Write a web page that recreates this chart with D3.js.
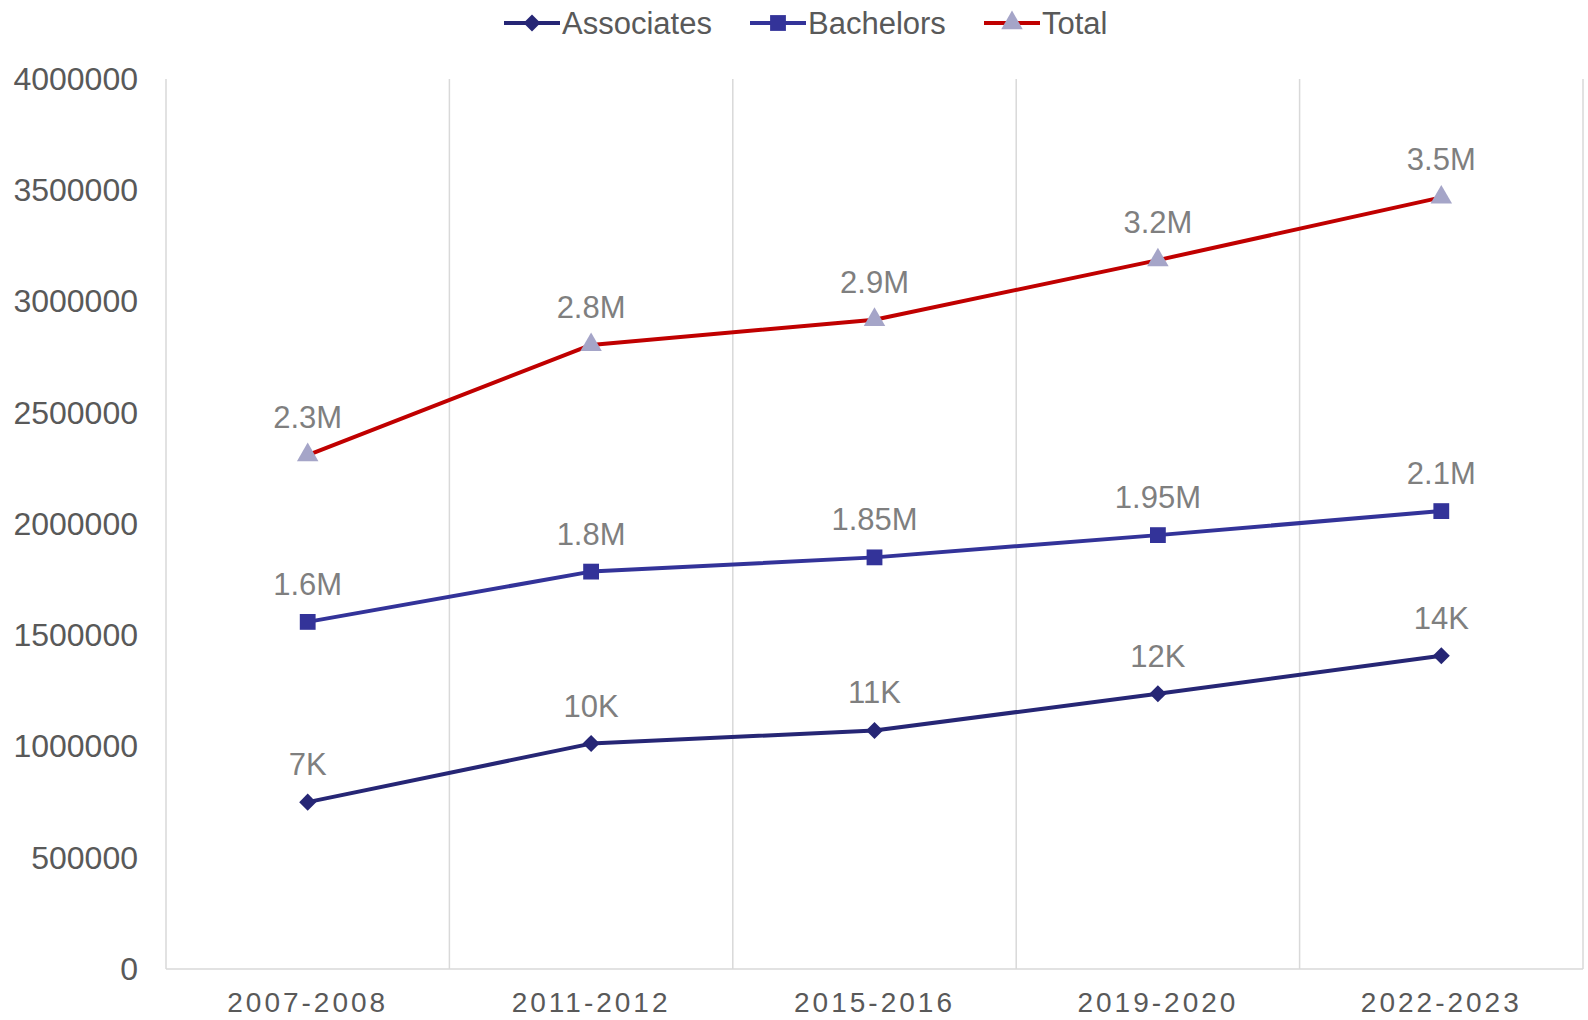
<!DOCTYPE html>
<html>
<head>
<meta charset="utf-8">
<script src="https://cdn.jsdelivr.net/npm/d3@7"></script>
<style>
  body { margin: 0; background: #fff; }
  svg { display: block; font-family: "Liberation Sans", Arial, sans-serif; }
</style>
</head>
<body>
<div id="chart"></div>
<script>
// data
var years = ["2007-2008", "2011-2012", "2015-2016", "2019-2020", "2022-2023"];
var associates = [750000, 1013000, 1072000, 1237000, 1408000];
var associatesLabels = ["7K", "10K", "11K", "12K", "14K"];
var bachelors = [1560000, 1786000, 1850000, 1950000, 2058000];
var bachelorsLabels = ["1.6M", "1.8M", "1.85M", "1.95M", "2.1M"];
var total = [2310000, 2805000, 2918000, 3186000, 3468000];
var totalLabels = ["2.3M", "2.8M", "2.9M", "3.2M", "3.5M"];
var yTicks = [0, 500000, 1000000, 1500000, 2000000, 2500000, 3000000, 3500000, 4000000];

var width = 1588, height = 1020;
var margin = { top: 79, right: 5, bottom: 51, left: 166 };

var series = [
  { name: "Associates", values: associates, labels: associatesLabels, stroke: "#262675", fill: "#262675", shape: d3.symbolSquare, size: 145, rot: 45 },
  { name: "Bachelors", values: bachelors, labels: bachelorsLabels, stroke: "#333399", fill: "#333399", shape: d3.symbolSquare, size: 250, rot: 0 },
  { name: "Total", values: total, labels: totalLabels, stroke: "#c00000", fill: "#a5a5c8", shape: d3.symbolTriangle, size: 200, rot: 0 }
];

var svg = d3.select("#chart")
  .append("svg")
  .attr("width", width)
  .attr("height", height);

var x = d3.scaleBand()
  .domain(years)
  .range([margin.left, width - margin.right])
  .padding(0);

var y = d3.scaleLinear()
  .domain([0, 4000000])
  .range([height - margin.bottom, margin.top]);

// vertical gridlines at category boundaries
var bounds = years.map(d => x(d)).concat([width - margin.right]);
svg.append("g")
  .selectAll("line")
  .data(bounds)
  .join("line")
    .attr("x1", d => d).attr("x2", d => d)
    .attr("y1", margin.top).attr("y2", height - margin.bottom)
    .attr("stroke", "#d9d9d9")
    .attr("stroke-width", 1.5);

// bottom axis line
svg.append("line")
  .attr("x1", margin.left).attr("x2", width - margin.right)
  .attr("y1", y(0)).attr("y2", y(0))
  .attr("stroke", "#d9d9d9")
  .attr("stroke-width", 1.5);

// y axis labels
var yAxis = svg.append("g")
  .attr("transform", `translate(${margin.left},0)`)
  .call(d3.axisLeft(y).tickValues(yTicks).tickFormat(d3.format("d")).tickSize(0).tickPadding(28));
yAxis.select(".domain").remove();
yAxis.selectAll("text")
  .attr("fill", "#595959")
  .style("font-size", "32px")
  .style("font-family", "Liberation Sans, Arial, sans-serif");

// x axis labels
var xAxis = svg.append("g")
  .attr("transform", `translate(0,${height - margin.bottom})`)
  .call(d3.axisBottom(x).tickSize(0).tickPadding(23));
xAxis.select(".domain").remove();
xAxis.selectAll("text")
  .attr("fill", "#595959")
  .style("font-size", "28px")
  .style("letter-spacing", "3px")
  .style("font-family", "Liberation Sans, Arial, sans-serif");

var cx = d => x(d) + x.bandwidth() / 2;
var line = d3.line()
  .x((d, i) => cx(years[i]))
  .y(d => y(d));

series.forEach(function(s) {
  var g = svg.append("g");
  g.append("path")
    .datum(s.values)
    .attr("fill", "none")
    .attr("stroke", s.stroke)
    .attr("stroke-width", 4)
    .attr("stroke-linejoin", "round")
    .attr("d", line);

  g.selectAll("path.marker")
    .data(s.values)
    .join("path")
      .attr("class", "marker")
      .attr("d", d3.symbol().type(s.shape).size(s.size))
      .attr("fill", s.fill)
      .attr("transform", (d, i) => `translate(${cx(years[i])},${y(d)}) rotate(${s.rot})`);

  g.selectAll("text")
    .data(s.values)
    .join("text")
      .attr("x", (d, i) => cx(years[i]))
      .attr("y", d => y(d) - 27)
      .attr("text-anchor", "middle")
      .attr("fill", "#7f7f7f")
      .style("font-size", "31px")
      .text((d, i) => s.labels[i]);
});

// legend
var legendX = [504, 750, 984];
var legend = svg.append("g");
series.forEach(function(s, i) {
  var lg = legend.append("g").attr("transform", `translate(${legendX[i]},23)`);
  lg.append("line")
    .attr("x1", 0).attr("x2", 56)
    .attr("stroke", s.stroke)
    .attr("stroke-width", 4);
  lg.append("path")
    .attr("d", d3.symbol().type(s.shape).size(s.size))
    .attr("fill", s.fill)
    .attr("transform", `translate(28,0) rotate(${s.rot})`);
  lg.append("text")
    .attr("x", 58)
    .attr("dy", "0.35em")
    .attr("fill", "#595959")
    .style("font-size", "31px")
    .text(s.name);
});
</script>
</body>
</html>
